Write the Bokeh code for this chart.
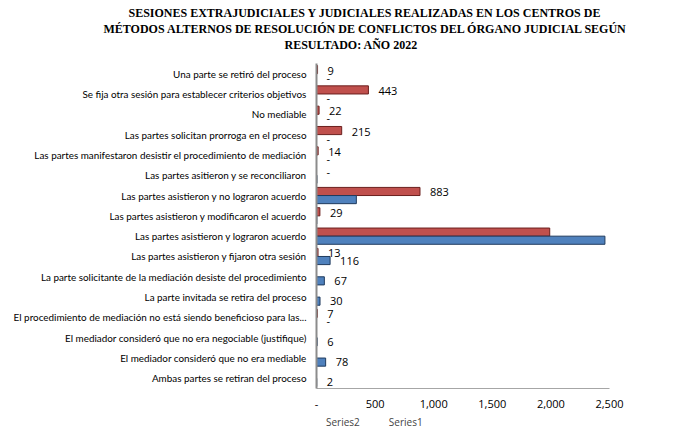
from bokeh.plotting import figure
from bokeh.layouts import column
from bokeh.models import (FactorRange, ColumnDataSource, FixedTicker, Title, Legend, LegendItem,
                          NumeralTickFormatter)
from bokeh.transform import dodge
from bokeh.embed import file_html
from bokeh.resources import INLINE
from bokeh.core.properties import value

categories = [
    "Una parte se retiró del proceso",
    "Se fija otra sesión para establecer criterios objetivos",
    "No mediable",
    "Las partes solicitan prorroga en el proceso",
    "Las partes manifestaron desistir el procedimiento de mediación",
    "Las partes asitieron y se reconciliaron",
    "Las partes asistieron y no lograron acuerdo",
    "Las partes asistieron y modificaron el acuerdo",
    "Las partes asistieron y lograron acuerdo",
    "Las partes asistieron y fijaron otra sesión",
    "La parte solicitante de la mediación desiste del procedimiento",
    "La parte invitada se retira del proceso",
    "El procedimiento de mediación no está siendo beneficioso para las...",
    "El mediador consideró que no era negociable (justifique)",
    "El mediador consideró que no era mediable",
    "Ambas partes se retiran del proceso",
]
series2 = [9, 443, 22, 215, 14, 0, 883, 29, 1990, 13, 0, 0, 7, 0, 0, 0]
series1 = [0, 0, 0, 0, 0, 4, 340, 3, 2461, 116, 67, 30, 0, 6, 78, 2]
labels2 = ["9", "443", "22", "215", "14", "-", "883", "29", "", "13", "", "", "7", "", "", ""]
labels1 = ["-", "-", "-", "-", "-", "", "", "", "2,461", "116", "67", "30", "-", "6", "78", "2"]
series_names = ["Series2", "Series1"]
x_ticks = [0, 500, 1000, 1500, 2000, 2500]
title_lines = [
    "SESIONES EXTRAJUDICIALES  Y JUDICIALES  REALIZADAS  EN LOS CENTROS DE",
    "MÉTODOS ALTERNOS DE RESOLUCIÓN DE CONFLICTOS DEL ÓRGANO JUDICIAL  SEGÚN",
    "RESULTADO:  AÑO 2022",
]
title_left = [128, 103, 284]

RED = "#C0504D"
BLUE = "#4F81BD"
RED_EDGE = "#6B1F1D"
BLUE_EDGE = "#1F3B5E"

FL = 316
p = figure(frame_width=293, frame_height=325, output_backend="svg", toolbar_location=None,
           y_range=FactorRange(factors=list(reversed(categories))),
           x_range=(0, 2500),
           min_border_left=FL, min_border_right=55, min_border_top=63, min_border_bottom=0)
p.outline_line_color = None
p.xgrid.grid_line_color = None
p.ygrid.grid_line_color = None

src = ColumnDataSource(dict(cat=categories, s1=series1, s2=series2, l1=labels1, l2=labels2))

p.hbar(y=dodge("cat", 0.2, range=p.y_range), right="s2", left=0, height=0.4, source=src,
       fill_color=RED, line_color=RED_EDGE, line_width=1)
p.hbar(y=dodge("cat", -0.2, range=p.y_range), right="s1", left=0, height=0.4, source=src,
       fill_color=BLUE, line_color=BLUE_EDGE, line_width=1)

p.text(x="s2", y=dodge("cat", 0.15, range=p.y_range), text="l2", source=src, x_offset=10,
       text_font=value("Open Sans"), text_font_size="11px", text_color="#000000",
       text_baseline="middle", text_align="left")
p.text(x="s1", y=dodge("cat", -0.2, range=p.y_range), text="l1", source=src, x_offset=10,
       text_font=value("Open Sans"), text_font_size="11px", text_color="#000000",
       text_baseline="middle", text_align="left")

xa = p.xaxis[0]
xa.axis_label = None
xa.ticker = FixedTicker(ticks=x_ticks)
xa.formatter = NumeralTickFormatter(format="0,0")
xa.major_label_overrides = {0: "-"}
xa.major_tick_line_color = None
xa.minor_tick_line_color = None
xa.major_tick_out = 0
xa.major_tick_in = 0
xa.minor_tick_out = 0
xa.minor_tick_in = 0
xa.axis_line_color = "#A6A6A6"
xa.major_label_standoff = 11
xa.major_label_text_font = "Open Sans"
xa.major_label_text_font_size = "11px"
xa.major_label_text_color = "#000000"

ya = p.yaxis[0]
ya.axis_label = None
ya.major_tick_line_color = None
ya.minor_tick_line_color = None
ya.major_tick_out = 0
ya.major_tick_in = 0
ya.minor_tick_out = 0
ya.minor_tick_in = 0
ya.axis_line_color = "#8C8C8C"
ya.axis_line_width = 2
ya.major_label_standoff = 10
ya.major_label_text_font = "Lato"
ya.major_label_text_font_size = "9.9px"
ya.major_label_text_color = "#000000"

# spacer between frame and title block
p.add_layout(Title(text=" ", standoff=0, text_font_size="9px"), "above")
# title lines: added closest-first
for t, lx in reversed(list(zip(title_lines, title_left))):
    p.add_layout(Title(text=t, align="left", offset=lx - FL, standoff=0,
                       text_font="Liberation Serif", text_font_style="bold", text_font_size="12px",
                       text_color="#000000"), "above")

# legend strip below the chart (its frame is aligned with the chart frame)
pl = figure(width=664, height=22, output_backend="svg", toolbar_location=None,
            x_range=(0, 1), y_range=(0, 1), min_border=0)
pl.xaxis.visible = False
pl.yaxis.visible = False
pl.xgrid.visible = False
pl.ygrid.visible = False
pl.outline_line_color = None
lr2 = pl.hbar(y=[], right=[], left=0, height=0.4, fill_color=RED, line_color=RED_EDGE)
lr1 = pl.hbar(y=[], right=[], left=0, height=0.4, fill_color=BLUE, line_color=BLUE_EDGE)
legend = Legend(items=[LegendItem(label=series_names[0], renderers=[lr2]),
                       LegendItem(label=series_names[1], renderers=[lr1])],
                orientation="horizontal", location=(0, 3),
                glyph_width=7, glyph_height=7, label_height=12, label_standoff=3, spacing=19,
                label_text_font="Open Sans", label_text_font_size="10px",
                border_line_color=None, background_fill_alpha=0, padding=2, margin=0)
pl.add_layout(legend, "center")

open("out.html", "w").write(file_html(column(p, pl, spacing=0), INLINE))
